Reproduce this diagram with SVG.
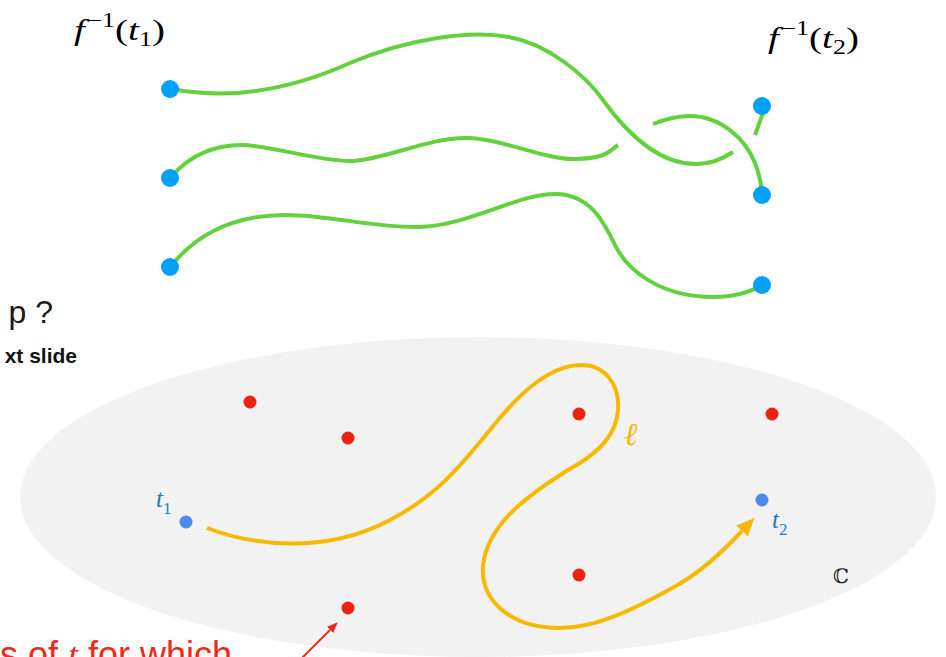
<svg xmlns="http://www.w3.org/2000/svg" width="946" height="657" viewBox="0 0 946 657">
<style>
.strand{fill:none;stroke:#63d13e;stroke-width:4;stroke-linecap:butt}
.fib{fill:#00a0ff}
.pole{fill:#ee2211}
.base{fill:#4a8ae8}
.loop{fill:none;stroke:#f6b900;stroke-width:4}
.math{font-family:"Liberation Serif","Times New Roman",serif;font-size:30px;fill:#000}
.tl{font-family:"Liberation Serif","Times New Roman",serif;font-style:italic;font-size:25px;fill:#1f78c1}
</style>
<defs>
<marker id="ah" markerUnits="userSpaceOnUse" viewBox="0 0 18 16" refX="0" refY="8" markerWidth="18" markerHeight="16" orient="auto">
<path d="M0,0 L18,8 L0,16 z" fill="#f6b900"/>
</marker>
<marker id="rh" markerUnits="userSpaceOnUse" viewBox="0 0 11 9" refX="0" refY="4.5" markerWidth="11" markerHeight="9" orient="auto">
<path d="M0,0 L11,4.5 L0,9 z" fill="#f2281c"/>
</marker>
</defs>

<g id="plane">
<ellipse cx="478" cy="497" rx="458" ry="160" fill="#f2f2f2"/>
<text x="841" y="583" text-anchor="middle" font-family="DejaVu Serif, serif" font-size="20" fill="#222">ℂ</text>
</g>

<g id="side-text" font-family="Liberation Sans, Arial, sans-serif">
<text x="53" y="323" text-anchor="end" font-size="32" fill="#1a1a1a">p ?</text>
<text x="77" y="363" text-anchor="end" font-size="21" font-weight="bold" fill="#111">xt slide</text>
<text x="0" y="667" font-size="36" fill="#f2281c">s of <tspan font-family="Liberation Serif, serif" font-style="italic">t</tspan> for which</text>
</g>

<g id="label-f1" transform="translate(74,40) scale(1.3,1)">
<text class="math" x="0" y="0"><tspan font-style="italic">f</tspan><tspan font-size="20" dx="2" dy="-13">−1</tspan><tspan dy="13">(</tspan><tspan font-style="italic">t</tspan><tspan font-size="20" dy="6">1</tspan><tspan dy="-6">)</tspan></text>
</g>
<g id="label-f2" transform="translate(768,48) scale(1.3,1)">
<text class="math" x="0" y="0"><tspan font-style="italic">f</tspan><tspan font-size="20" dx="2" dy="-13">−1</tspan><tspan dy="13">(</tspan><tspan font-style="italic">t</tspan><tspan font-size="20" dy="6">2</tspan><tspan dy="-6">)</tspan></text>
</g>

<g id="connectors">
<path class="strand" d="M172,89 C230,100 290,90 350,63 C410,38 470,30 509,37 C548,44 585,75 603,100 C621,125 655,165 697,164 C713,164 724,158 733,152"/>
<path class="strand" d="M755,135 L763,113"/>
<path class="strand" d="M171,177 C190,155 215,145 242,145 S320,162 352,161 S430,137 467,138 S545,160 576,159 S608,152 618,145"/>
<path class="strand" d="M653,124 C668,118 678,116 690,116 C720,116 745,138 755,163 C759,173 761,183 762,193"/>
<path class="strand" d="M171,266 C200,230 240,215 285,215 C330,215 375,228 418,227 C470,226 520,192 558,194 C590,196 603,220 615,245 C627,270 660,297 713,297 C735,297 752,291 762,285"/>
<path class="loop" marker-end="url(#ah)" d="M207,528 C260,548 330,552 390,520 C440,494 465,460 490,430 C520,392 550,365 582,365 C605,365 620,385 618,410 C616,440 590,458 568,470 C525,497 488,525 483,565 C480,600 510,628 560,628 C600,628 640,605 665,592 C700,574 722,552 742,531"/>
<path d="M300,660 L330,630" stroke="#f2281c" stroke-width="2" fill="none" marker-end="url(#rh)"/>
</g>

<g id="fibres-left">
<circle class="fib" cx="170" cy="89" r="9"/>
<circle class="fib" cx="170" cy="178" r="9"/>
<circle class="fib" cx="170" cy="267" r="9"/>
</g>
<g id="fibres-right">
<circle class="fib" cx="762" cy="106" r="9"/>
<circle class="fib" cx="762" cy="195" r="9"/>
<circle class="fib" cx="762" cy="285" r="9"/>
</g>

<g id="poles">
<circle class="pole" cx="250" cy="402" r="6.5"/>
<circle class="pole" cx="348" cy="438" r="6.5"/>
<circle class="pole" cx="579" cy="414" r="6.5"/>
<circle class="pole" cx="772" cy="414" r="6.5"/>
<circle class="pole" cx="579" cy="575" r="6.5"/>
<circle class="pole" cx="348" cy="608" r="6.5"/>
</g>

<g id="t1">
<circle class="base" cx="186" cy="522" r="6.5"/>
<text class="tl" x="156" y="507">t<tspan font-style="normal" font-size="17" dy="7">1</tspan></text>
</g>
<g id="t2">
<circle class="base" cx="762" cy="500" r="6.5"/>
<text class="tl" x="772" y="528">t<tspan font-style="normal" font-size="17" dy="7">2</tspan></text>
</g>
<g id="ell-label">
<text x="624" y="445" font-family="DejaVu Serif, serif" font-style="italic" font-size="32" fill="#f6b900">ℓ</text>
</g>
</svg>
